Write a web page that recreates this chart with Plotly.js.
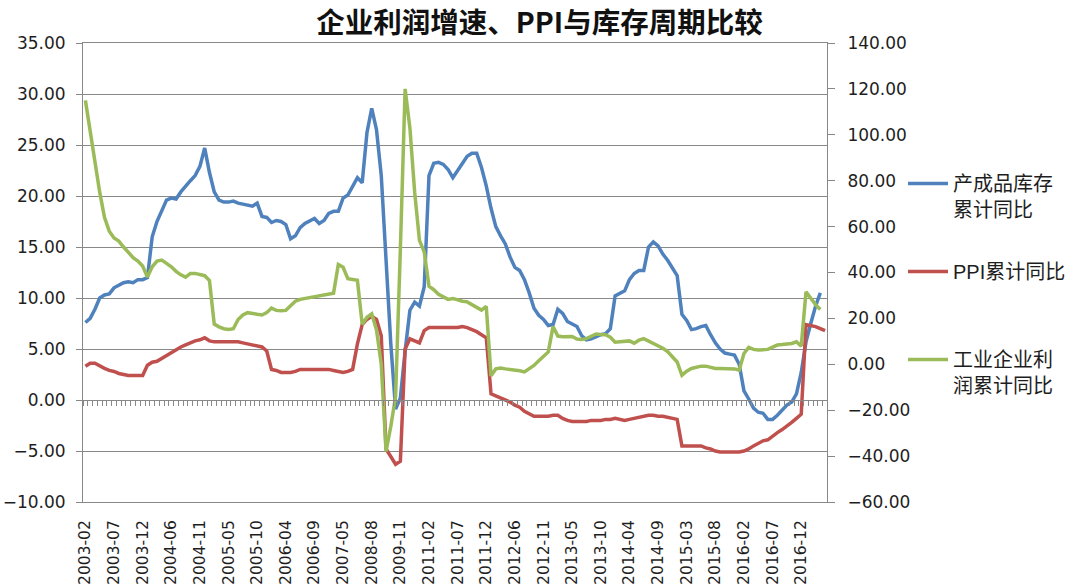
<!DOCTYPE html>
<html>
<head>
<meta charset="utf-8">
<script src="https://cdn.plot.ly/plotly-3.0.1.min.js"></script>
<style>html,body{margin:0;padding:0;background:#fff;}#chart{width:1079px;height:585px;}</style>
</head>
<body>
<div id="chart"></div>
<script>
// x-axis tick labels (one label every 6 categories)
const xLabels = ['2003-02','2003-07','2003-12','2004-06','2004-11','2005-05','2005-10','2006-04','2006-09','2007-05','2008-08','2009-11','2011-02','2011-07','2011-12','2012-06','2012-11','2013-05','2013-10','2014-04','2014-09','2015-03','2015-08','2016-02','2016-07','2016-12'];
const labelStep = 6;

const seriesNames = ['产成品库存<br>累计同比', 'PPI累计同比', '工业企业利<br>润累计同比'];

// 产成品库存累计同比 (left axis)
const inventory = [
 7.6, 8.0, 8.9, 10.0, 10.3, 10.4, 11.0, 11.3, 11.5, 11.6,
 11.5, 11.8, 11.8, 12.0, 16.0, 17.5, 18.5, 19.6, 19.8, 19.7,
 20.4, 21.0, 21.5, 22.0, 22.9, 24.7, 22.3, 20.4, 19.6, 19.4,
 19.4, 19.5, 19.3, 19.2, 19.1, 19.0, 19.3, 18.0, 17.9, 17.4,
 17.6, 17.5, 17.2, 15.8, 16.1, 16.9, 17.3, 17.6, 17.8, 17.3,
 17.6, 18.3, 18.5, 18.5, 19.8, 20.1, 21.0, 21.8, 21.3, 26.2,
 28.6, 26.5, 22.0, 13.5, 5.5, -0.9, 0.2, 4.8, 8.8, 9.6,
 9.2, 11.1, 22.0, 23.2, 23.3, 23.1, 22.6, 21.8, 22.5, 23.1,
 23.9, 24.2, 24.2, 22.8, 21.0, 18.8, 17.0, 16.1, 15.3, 14.0,
 13.0, 12.7, 11.8, 10.5, 9.0, 8.3, 7.9, 7.3, 7.4, 8.9,
 8.5, 7.7, 7.4, 7.2, 6.3, 5.9, 6.0, 6.2, 6.4, 6.5,
 7.0, 10.2, 10.5, 10.7, 11.8, 12.4, 12.7, 12.7, 15.0, 15.5,
 15.1, 14.3, 13.7, 13.0, 12.2, 8.4, 7.8, 6.9, 7.0, 7.2,
 7.3, 6.4, 5.6, 5.0, 4.6, 4.5, 4.4, 3.5, 0.9, 0.1,
 -0.8, -1.2, -1.3, -1.9, -1.9, -1.5, -1.0, -0.5, -0.2, 0.6,
 2.7, 5.7, 7.5, 9.2, 10.5
];

// PPI累计同比 (left axis)
const ppi = [
 3.3, 3.6, 3.6, 3.3, 3.1, 2.9, 2.8, 2.6, 2.5, 2.4,
 2.4, 2.4, 2.4, 3.4, 3.7, 3.8, 4.1, 4.4, 4.7, 4.9,
 5.2, 5.4, 5.6, 5.8, 5.9, 6.1, 5.8, 5.7, 5.7, 5.7,
 5.7, 5.7, 5.7, 5.6, 5.5, 5.4, 5.3, 5.2, 4.8, 3.0,
 2.9, 2.7, 2.7, 2.7, 2.8, 3.0, 3.0, 3.0, 3.0, 3.0,
 3.0, 3.0, 2.9, 2.8, 2.7, 2.8, 3.0, 5.5, 7.4, 7.9,
 8.2, 7.9, 6.3, -4.8, -5.5, -6.3, -6.0, 5.0, 6.0, 5.8,
 5.6, 6.8, 7.1, 7.1, 7.1, 7.1, 7.1, 7.1, 7.1, 7.2,
 7.1, 6.9, 6.7, 6.4, 6.1, 0.6, 0.4, 0.2, 0.0, -0.2,
 -0.5, -0.7, -1.1, -1.4, -1.6, -1.6, -1.6, -1.6, -1.5, -1.5,
 -1.8, -2.0, -2.1, -2.1, -2.1, -2.1, -2.0, -2.0, -2.0, -1.9,
 -1.9, -1.8, -1.9, -2.0, -1.9, -1.8, -1.7, -1.6, -1.5, -1.5,
 -1.6, -1.6, -1.7, -1.8, -1.9, -4.5, -4.5, -4.5, -4.5, -4.5,
 -4.7, -4.8, -5.0, -5.1, -5.1, -5.1, -5.1, -5.1, -5.0, -4.8,
 -4.5, -4.2, -4.0, -3.9, -3.5, -3.2, -2.9, -2.6, -2.2, -1.8,
 -1.4, 7.4, 7.3, 7.2, 7.0, 6.8
];

// 工业企业利润累计同比 (right axis)
const profit = [
 115, 102, 87, 75, 64, 58, 55, 53.7, 51.1, 48.8,
 46.5, 45, 42.8, 38, 42.5, 45, 45.4, 44, 42.5, 40.5,
 39, 38, 39.6, 39.6, 39, 38.6, 36.5, 17.5, 16.3, 15.5,
 15.2, 15.5, 19.5, 21.5, 22.5, 22.3, 21.8, 21.5, 22.5, 24.5,
 23.5, 23.3, 23.5, 25.5, 27.5, 28.3, 28.7, 29.0, 29.3, 29.7,
 30.0, 30.5, 31.0, 43.5, 42.3, 37.3, 36.8, 36.6, 17.5, 20.5,
 22.0, 15.0, 0, -38, -27, -14, 50, 120, 103, 75,
 54, 49, 34, 32.5, 30.5, 29.5, 28.3, 28.7, 28.0, 27.5,
 27.2, 26.0, 24.5, 23.6, 25.2, -5.0, -2.0, -1.6, -2.0, -2.2,
 -2.4, -2.8, -3.3, -2.0, -0.5, 1.5, 3.5, 5.4, 16.5, 12.3,
 12.0, 12.0, 12.1, 11.0, 10.8, 11.2, 12.2, 13.2, 13.0, 12.9,
 11.8, 9.6, 9.8, 10.0, 10.2, 9.2, 10.5, 11.2, 10.2, 9.2,
 8.4, 7.0, 5.5, 3.5, 1.0, -4.8, -3.0, -1.8, -1.3, -0.8,
 -0.8, -1.2, -1.8, -1.8, -1.8, -1.8, -2.0, -2.5, 4.7, 7.4,
 6.5, 6.2, 6.2, 6.5, 7.5, 8.4, 8.6, 8.9, 9.1, 9.8,
 7.9, 31.6, 28.7, 26.0, 23.9
];

const idx = arr => arr.map((_, i) => i);
const GRID = '#888888';
const YTICKFONT = {family: 'DejaVu Sans', size: 17, color: '#1e1e1e'};
const XTICKFONT = {family: 'DejaVu Sans', size: 15.5, color: '#1e1e1e'};
const LEGFONT = {family: '"Liberation Sans", "Noto Sans CJK SC", sans-serif', size: 20, color: '#1e1e1e'};
const XRANGE = [-0.5, 155.4];

const traces = [
  {x: idx(inventory), y: inventory, name: seriesNames[0], type: 'scatter', mode: 'lines',
   line: {color: '#4F81BD', width: 3.5}, yaxis: 'y', legend: 'legend'},
  {x: idx(ppi), y: ppi, name: seriesNames[1], type: 'scatter', mode: 'lines',
   line: {color: '#C0504D', width: 3.5}, yaxis: 'y', legend: 'legend2'},
  {x: idx(profit), y: profit, name: seriesNames[2], type: 'scatter', mode: 'lines',
   line: {color: '#9BBB59', width: 3.5}, yaxis: 'y2', legend: 'legend3'},
  // category axis drawn at y = 0 with per-category tick marks
  {x: [0], y: [null], xaxis: 'x2', yaxis: 'y', type: 'scatter', mode: 'lines',
   showlegend: false, hoverinfo: 'skip'}
];

const legendBase = {
  xref: 'container', yref: 'container', xanchor: 'left', yanchor: 'top',
  font: LEGFONT, bgcolor: 'rgba(0,0,0,0)', borderwidth: 0,
  valign: 'top', itemwidth: 40, tracegroupgap: 0
};

const layout = {
  width: 1079, height: 585,
  paper_bgcolor: '#ffffff', plot_bgcolor: '#ffffff',
  margin: {l: 83, r: 252, t: 43, b: 83},
  title: {
    text: '<b>企业利润增速、PPI与库存周期比较</b>',
    font: {family: 'Noto Sans CJK SC', size: 28.5, color: '#111'},
    xref: 'container', x: 0.5, xanchor: 'center',
    yref: 'container', y: 1 - 23 / 585, yanchor: 'middle'
  },
  xaxis: {
    range: XRANGE, tickmode: 'array',
    tickvals: xLabels.map((_, k) => k * labelStep), ticktext: xLabels,
    tickangle: -90, tickfont: XTICKFONT, ticks: '', ticklabelstandoff: 11,
    showgrid: false, zeroline: false, showline: true, mirror: true,
    linecolor: GRID, linewidth: 1
  },
  xaxis2: {
    range: XRANGE, overlaying: 'x', anchor: 'free', position: 10 / 45,
    side: 'bottom', tickmode: 'linear', tick0: 0.5, dtick: 1,
    ticks: 'outside', ticklen: 5, tickcolor: GRID, tickwidth: 1,
    showticklabels: false, showgrid: false, zeroline: false,
    showline: true, linecolor: GRID, linewidth: 1
  },
  yaxis: {
    range: [-10, 35], tickmode: 'linear', tick0: -10, dtick: 5, tickformat: '.2f',
    tickfont: YTICKFONT, ticks: 'outside', ticklen: 6, tickcolor: GRID, ticklabelstandoff: 7,
    showgrid: true, gridcolor: GRID, gridwidth: 1, zeroline: false,
    showline: true, linecolor: GRID, linewidth: 1
  },
  yaxis2: {
    range: [-60, 140], tickmode: 'linear', tick0: -60, dtick: 20, tickformat: '.2f',
    overlaying: 'y', side: 'right', tickfont: YTICKFONT,
    ticks: 'outside', ticklen: 7, tickcolor: GRID, ticklabelstandoff: 9,
    showgrid: false, zeroline: false, showline: true, linecolor: GRID, linewidth: 1
  },
  legend: Object.assign({}, legendBase, {x: 903 / 1079, y: 1 - 164 / 585}),
  legend2: Object.assign({}, legendBase, {x: 903 / 1079, y: 1 - 252 / 585}),
  legend3: Object.assign({}, legendBase, {x: 903 / 1079, y: 1 - 340 / 585}),
  showlegend: true
};

Plotly.newPlot('chart', traces, layout, {displayModeBar: false, responsive: false});
</script>
</body>
</html>
